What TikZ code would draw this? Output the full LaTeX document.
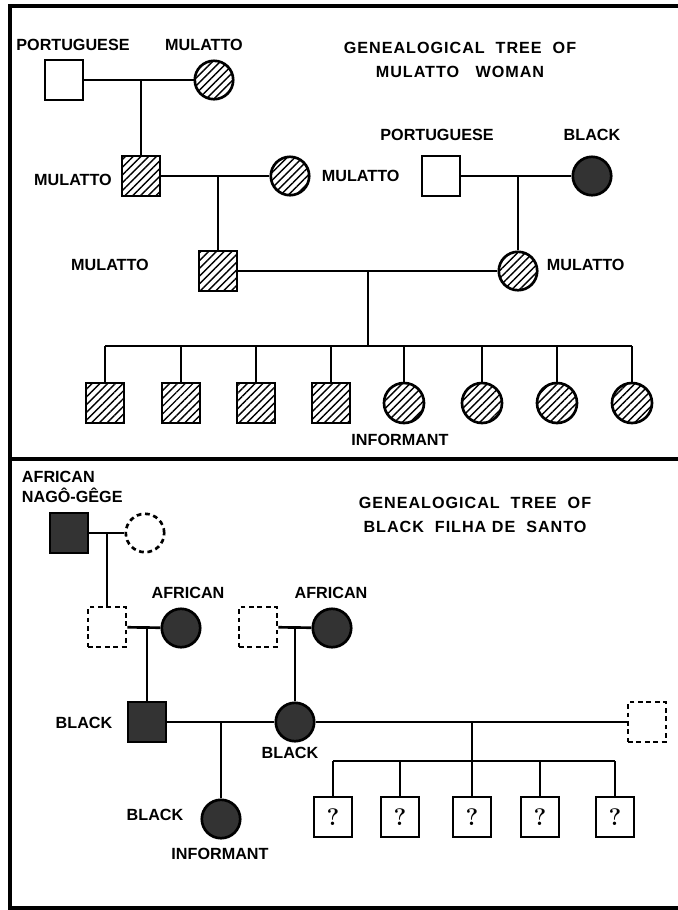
\documentclass[tikz,border=0pt]{standalone}
\usepackage{fontspec}
\setmainfont{Liberation Sans}
\newfontfamily\qfont{Latin Modern Roman}
\usetikzlibrary{patterns.meta,positioning}
\tikzset{
  link/.style={line width=1.9pt},
  male/.style={draw,line width=1.9pt,rectangle,minimum width=0.95cm,minimum height=1cm,inner sep=0pt},
  female/.style={draw,line width=1.9pt,circle,minimum size=0.96cm,inner sep=0pt},
  mixed/.style={pattern={Lines[angle=45,distance=3.9pt,line width=1pt]}},
  dark/.style={fill=black!80},
  unknown/.style={dash pattern=on 3.4pt off 2.6pt},
  lbl/.style={font=\bfseries\fontsize{11.5}{12}\selectfont},
  ttl/.style={font=\bfseries\fontsize{11.5}{17.5}\selectfont\addfontfeature{LetterSpace=6},align=center},
  panelframe/.style={line width=2.2pt}
}

\begin{document}
\begin{tikzpicture}[x=0.025cm,y=-0.025cm]
    \useasboundingbox (0,0) rectangle (678,910);
    \draw[panelframe] (678,6)--(10,6)--(10,908)--(678,908);
    \draw[panelframe] (10,459)--(678,459);

    % mulatto woman
    \node[ttl] at (460,60){GENEALOGICAL\ \ TREE\ \ OF\\MULATTO\ \ \ WOMAN};
    \node[male] (pg1) at (64,80){};
    \node[female,mixed] (mu1) at (214,80){};
    \node[lbl] at (73,45){PORTUGUESE};
    \node[lbl] at (204,45){MULATTO};
    \node[male,mixed] (mu2) at (141,176){};
    \node[female,mixed] (mu3) at (290,176){};
    \node[lbl] at (73,180){MULATTO};
    \node[lbl,anchor=west] at (317,176){MULATTO};
    \node[male] (pg2) at (441,176){};
    \node[female,dark] (bk1) at (592,176){};
    \node[lbl] at (437,135){PORTUGUESE};
    \node[lbl] at (592,135){BLACK};
    \node[male,mixed] (mu4) at (218,271){};
    \node[female,mixed] (mu5) at (518,271){};
    \node[lbl] at (110,265){MULATTO};
    \node[lbl,anchor=west] at (542,265){MULATTO};
    \draw[link] (pg1)--(mu1);
    \draw[link] (mu2.north)--(mu2.north |- pg1.east);
    \draw[link] (mu2)--(mu3);
    \draw[link] (mu4.north)--(mu4.north |- mu2.east);
    \draw[link] (pg2)--(bk1);
    \draw[link] (mu5.north)--(mu5.north |- pg2.east);
    \draw[link] (mu4)--(mu5);
    \coordinate (bar1) at (368,346);
    \foreach \i/\x in {1/105,2/181,3/256,4/331}
      \node[male,mixed] (c\i) at (\x,403){};
    \foreach \i/\x in {5/404,6/482,7/557,8/632}
      \node[female,mixed,minimum height=1cm] (c\i) at (\x,403){};
    \draw[link] (bar1)--(bar1 |- mu4.east);
    \draw[link] (c1.north |- bar1)--(c8.north |- bar1);
    \foreach \i in {1,...,8}
      \draw[link] (c\i.north)--(c\i.north |- bar1);
    \node[lbl] at (400,440){INFORMANT};

    % black filha de santo
    \node[ttl] at (475,515){GENEALOGICAL\ \ TREE\ \ OF\\BLACK\ \ FILHA\ DE\ \ SANTO};
    \node[lbl,align=left,anchor=north west,font=\bfseries\fontsize{11.5}{14.5}\selectfont] at (17,466){AFRICAN\\NAGÔ-GÊGE};
    \node[male,dark] (af1) at (69,533){};
    \node[female,unknown] (uf1) at (145,533){};
    \node[male,unknown] (um1) at (107,627){};
    \node[female,dark] (af2) at (181,628){};
    \node[lbl] at (188,593){AFRICAN};
    \node[male,unknown] (um2) at (258,627){};
    \node[female,dark] (af3) at (332,628){};
    \node[lbl] at (331,593){AFRICAN};
    \node[male,dark] (bk2) at (147,722){};
    \node[female,dark] (bk3) at (295,722){};
    \node[male,unknown] (um3) at (647,722){};
    \node[lbl] at (84,723){BLACK};
    \node[lbl] at (290,753){BLACK};
    \node[female,dark] (inf) at (221,819){};
    \node[lbl] at (155,815){BLACK};
    \node[lbl] at (220,854){INFORMANT};
    \draw[link] (af1)--(uf1);
    \draw[link] (um1.north)--(um1.north |- af1.east);
    \draw[link] (um1)--(af2);
    \draw[link] (um2)--(af3);
    \draw[link] (bk2.north)--(bk2.north |- um1.east);
    \draw[link] (bk3.north)--(bk3.north |- um2.east);
    \draw[link] (bk2)--(bk3);
    \draw[link] (bk3)--(um3);
    \draw[link] (inf.north)--(inf.north |- bk2.east);
    \coordinate (bar2) at (471,761);
    \foreach \i/\x in {1/333,2/400,3/472,4/540,5/615}
      \node[male,font=\qfont\bfseries\fontsize{17}{17}\selectfont] (q\i) at (\x,817){?};
    \draw[link] (q3.north)--(q3.north |- bk3.east);
    \draw[link] (q1.north |- bar2)--(q5.north |- bar2);
    \foreach \i in {1,2,4,5}
      \draw[link] (q\i.north)--(q\i.north |- bar2);
  \end{tikzpicture}
\end{document}
